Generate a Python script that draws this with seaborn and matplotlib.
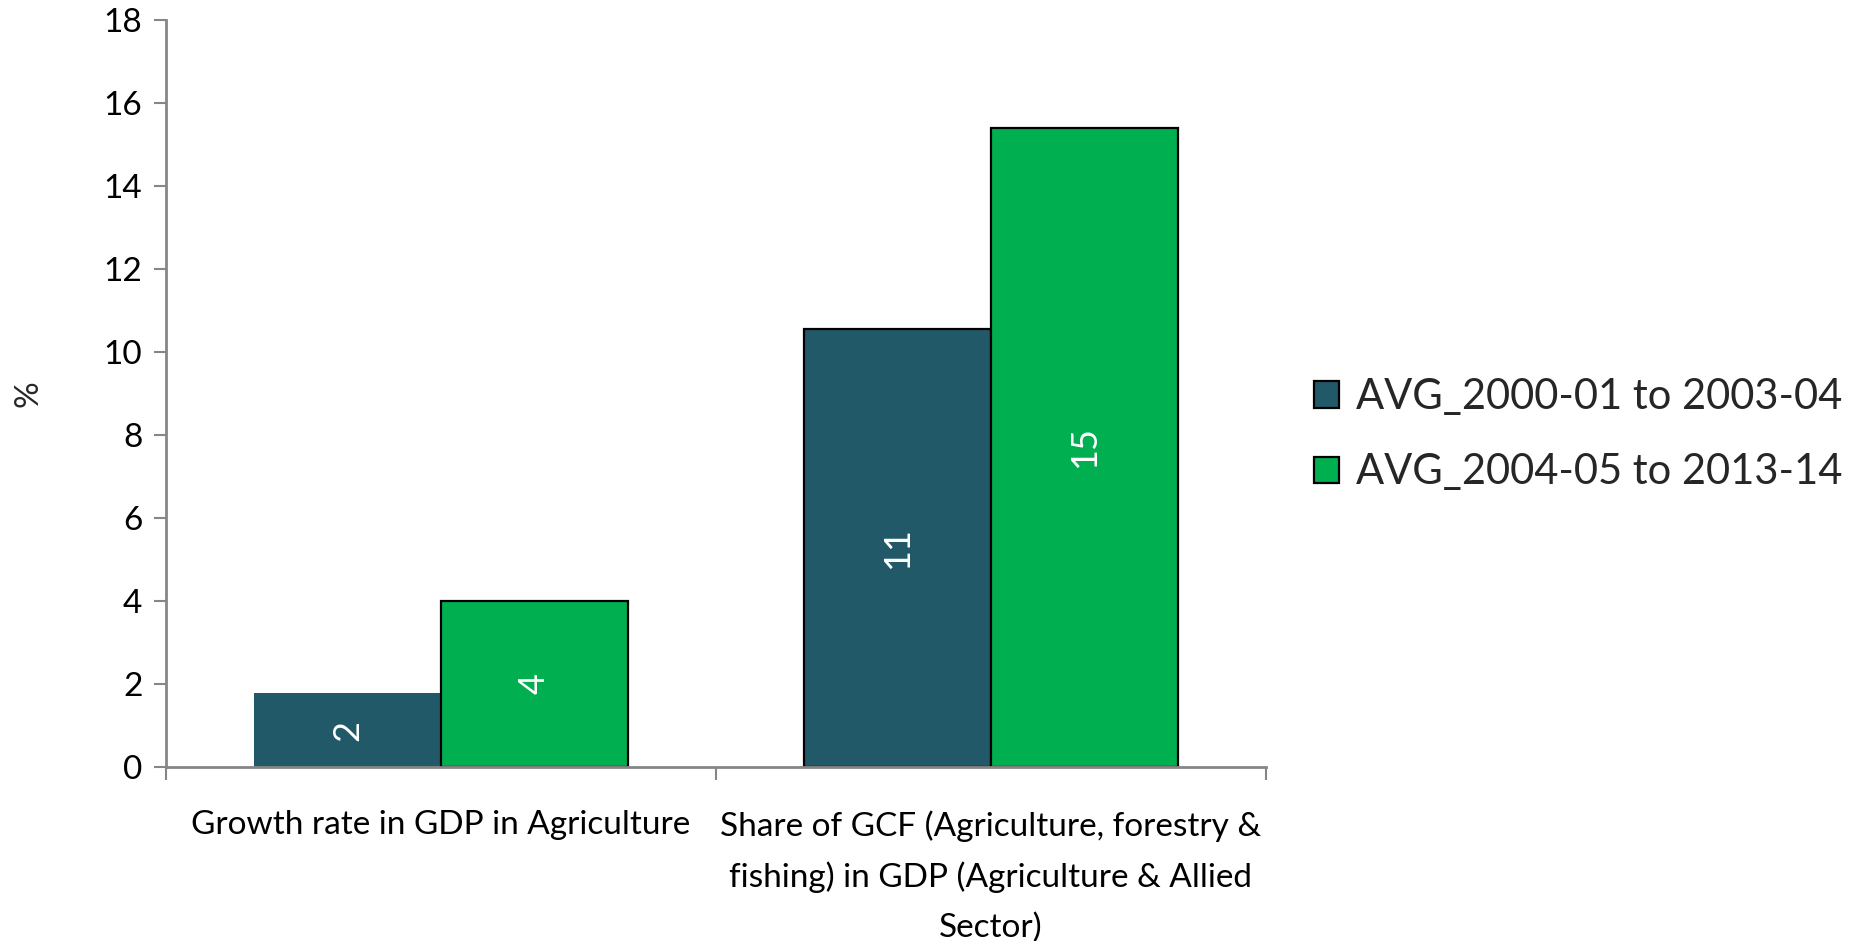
import matplotlib
matplotlib.use("Agg")
import matplotlib.pyplot as plt
import seaborn as sns
import pandas as pd

categories = ["Growth rate in GDP in Agriculture",
              "Share of GCF (Agriculture, forestry &\nfishing) in GDP (Agriculture & Allied\nSector)"]
series_names = ["AVG_2000-01 to 2003-04", "AVG_2004-05 to 2013-14"]
series_1 = [1.77, 10.55]
series_2 = [4.0, 15.4]
colors = ["#215968", "#00B050"]
y_ticks = [0, 2, 4, 6, 8, 10, 12, 14, 16, 18]

df = pd.DataFrame({
    "category": categories * 2,
    "series": [series_names[0]] * 2 + [series_names[1]] * 2,
    "value": series_1 + series_2,
})

sns.set_theme(style="white")
plt.rcParams["font.family"] = ["Lato", "DejaVu Sans"]

fig = plt.figure(figsize=(18.59, 9.41), dpi=100)
ax = fig.add_axes([0.0893, 0.185, 0.681 - 0.0893, 0.9787 - 0.185])

sns.barplot(data=df, x="category", y="value", hue="series", order=categories,
            hue_order=series_names, palette=colors, width=0.68, gap=0,
            edgecolor="black", linewidth=1.6, saturation=1, ax=ax, legend=True)

axis_gray = "#868686"
ax.set_ylim(0, 18)
ax.set_xlim(-0.5, 1.5)
ax.set_yticks(y_ticks)
ax.set_yticklabels([str(t) for t in y_ticks], fontsize=24, color="black")
ax.set_xticks([0, 1])
ax.set_xticklabels(categories, fontsize=24, color="black", linespacing=1.78)
ax.set_xticks([-0.5, 0.5, 1.5], minor=True)
ax.tick_params(axis="x", which="major", length=0, pad=31)
ax.tick_params(axis="x", which="minor", length=9, width=1.5, color=axis_gray, bottom=True)
ax.tick_params(axis="y", which="major", length=9, width=1.5, color=axis_gray, left=True, pad=8)
for side in ["top", "right"]:
    ax.spines[side].set_visible(False)
for side in ["left", "bottom"]:
    ax.spines[side].set_color(axis_gray)
    ax.spines[side].set_linewidth(2)
ax.set_xlabel("")
ax.set_ylabel("%", fontsize=24, labelpad=43)

for cont in ax.containers:
    labels = [f"{v:.0f}" for v in cont.datavalues]
    ax.bar_label(cont, labels=labels, label_type="center", rotation=90,
                 color="white", fontsize=26)

# first dark bar appears without outline in the reference
ax.containers[0].patches[0].set_edgecolor("none")

handles, labels = ax.get_legend_handles_labels()
ax.legend(handles, labels, loc="center left", bbox_to_anchor=(0.707, 0.538),
          bbox_transform=fig.transFigure, frameon=False, fontsize=30,
          handlelength=0.6, handleheight=0.6, handletextpad=0.4,
          labelspacing=0.9, borderpad=0, borderaxespad=0)

fig.savefig("out.png", dpi=100)
